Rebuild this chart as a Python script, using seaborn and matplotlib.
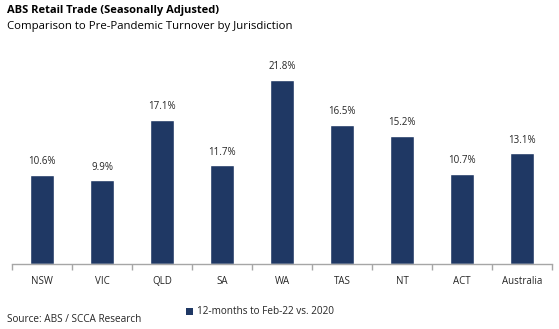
import matplotlib
matplotlib.use("Agg")
import matplotlib.pyplot as plt
import seaborn as sns
import pandas as pd
import numpy as np
from matplotlib.patches import Patch

categories = ["NSW", "VIC", "QLD", "SA", "WA", "TAS", "NT", "ACT", "Australia"]
values = [10.6, 9.9, 17.1, 11.7, 21.8, 16.5, 15.2, 10.7, 13.1]
series_name = "12-months to Feb-22 vs. 2020"

sns.set_theme(style="white")
plt.rcParams['font.family'] = ['Open Sans', 'DejaVu Sans']

df = pd.DataFrame({"cat": categories, "val": values})
color = "#1F3864"

fig = plt.figure(figsize=(5.59, 3.29), dpi=100)
ax = fig.add_axes([12/559, 65/329, 540/559, 211/329])
sns.barplot(data=df, x="cat", y="val", color=color, width=0.4, ax=ax, saturation=1)
ax.set_ylim(0, 25)
ax.set_xlim(-0.5, len(categories) - 0.5)
ax.set_xlabel("")
ax.set_ylabel("")
ax.set_yticks([])
for s in ["top", "left", "right"]:
    ax.spines[s].set_visible(False)
ax.spines["bottom"].set_color("#A6A6A6")
ax.spines["bottom"].set_linewidth(1)
ax.set_xticks(np.arange(-0.5, len(categories), 1), minor=True)
ax.tick_params(axis="x", which="major", length=0, labelsize=7, pad=9, colors="#262626")
ax.tick_params(axis="x", which="minor", length=4, color="#A6A6A6", bottom=True, direction="out")
for i, v in enumerate(values):
    ax.text(i, v + 0.9, f"{v:.1f}%", ha="center", va="bottom", fontsize=7, color="#262626")

fig.text(7/559, 1 - 11/329, "ABS Retail Trade (Seasonally Adjusted)", fontsize=8, fontweight="bold", va="center", color="#000000")
fig.text(7/559, 1 - 27/329, "Comparison to Pre-Pandemic Turnover by Jurisdiction", fontsize=8.2, va="center", color="#000000")
fig.text(7/559, 1 - 320/329, "Source: ABS / SCCA Research", fontsize=7.2, va="center", color="#262626")

handles = [Patch(facecolor=color, edgecolor="none")]
fig.legend(handles, [series_name], loc="center", bbox_to_anchor=(260/559, 1 - 312/329),
           frameon=False, fontsize=7.2, handlelength=0.7, handleheight=0.7, handletextpad=0.4,
           borderpad=0, borderaxespad=0)

fig.savefig("out.png", dpi=100)
